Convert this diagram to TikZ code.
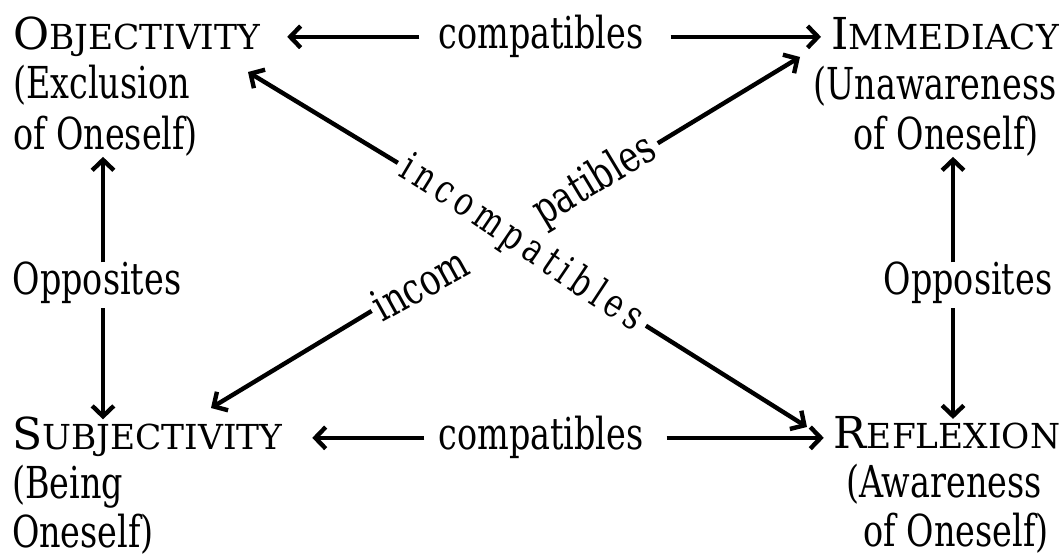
\documentclass[tikz,border=0pt]{standalone}
\usepackage{fontspec}
\setmainfont{DejaVu Serif}[FakeStretch=0.76]
\newfontfamily\scfont{DejaVu Serif}
\usetikzlibrary{arrows.meta,decorations.text}
\newcommand{\fsc}[2]{{\scfont\fontsize{11}{13}\selectfont #1\fontsize{8.6}{10}\selectfont #2}}
\begin{document}
\begin{tikzpicture}[x=0.25pt,y=-0.25pt,
  font=\fontsize{11}{13}\selectfont,
  every node/.style={inner sep=0pt,outer sep=0pt},
  arr/.style={line width=1.1pt,-{Straight Barb[length=2.6pt,width=5.4pt]}},
  lbl/.style={anchor=base}]
\useasboundingbox (0,0) rectangle (1062,554);
% corner nodes
\node[anchor=base west] (obj)  at (13,50)  {\fsc{O}{BJECTIVITY}};
\node[anchor=base west] (objA) at (13,99)  {(Exclusion};
\node[anchor=base west] (objB) at (13,150) {of Oneself)};
\node[anchor=base west] (sub)  at (12,450) {\fsc{S}{UBJECTIVITY}};
\node[anchor=base west] (subA) at (12,499) {(Being};
\node[anchor=base west] (subB) at (12,548) {Oneself)};
\node[lbl] (imm)  at (945,50)  {\fsc{I}{MMEDIACY}};
\node[lbl] (immA) at (935,100) {(Unawareness};
\node[lbl] (immB) at (946,150) {of Oneself)};
\node[lbl] (rfx)  at (947,449) {\fsc{R}{EFLEXION}};
\node[lbl] (rfxA) at (944,498) {(Awareness};
\node[lbl] (rfxB) at (956,547) {of Oneself)};
% edge labels
\node[lbl] (oppL) at (97,295)  {Opposites};
\node[lbl] (oppR) at (968,295) {Opposites};
\node[lbl] (cmpT) at (541,49)  {compatibles};
\node[lbl] (cmpB) at (541,450) {compatibles};
\node[rotate=29] (inc)  at (420,284) {incom};
\node[rotate=31] (pat)  at (595,181) {patibles};
% helper coordinates
\coordinate (lx) at (103,0);
\coordinate (rx) at (953,0);
\coordinate (dA) at (403,166);
\coordinate (dB) at (640,322);
\coordinate (tO) at (248,72);
\coordinate (tR) at (807,427);
\coordinate (tS) at (211,408);
\coordinate (tI) at (800,57);
% horizontal arrows
\draw[arr,shorten <=4.75pt,shorten >=6.75pt] (cmpT.west) -- (obj.east |- cmpT.west);
\draw[arr,shorten <=6.75pt,shorten >=2.5pt] (cmpT.east) -- (imm.west |- cmpT.east);
\draw[arr,shorten <=3.5pt,shorten >=7.5pt] (cmpB.west) -- (sub.east |- cmpB.west);
\draw[arr,shorten <=5.75pt,shorten >=2.5pt] (cmpB.east) -- (rfx.west |- cmpB.east);
% vertical arrows
\draw[arr] (oppL.north -| lx) -- (objB.south -| lx);
\draw[arr,shorten <=1pt,shorten >=-0.5pt] (oppL.south -| lx) -- (sub.north -| lx);
\draw[arr] (oppR.north -| rx) -- (immB.south -| rx);
\draw[arr,shorten <=1pt,shorten >=-0.5pt] (oppR.south -| rx) -- (rfx.north -| rx);
% diagonal arrows
\draw[arr,shorten <=1.5pt] (dA) -- (tO);
\draw[arr,shorten <=1.75pt] (dB) -- (tR);
\draw[arr,shorten <=1pt] (inc.west) -- (tS);
\draw[arr,shorten <=1.5pt] (pat.east) -- (tI);
\path[decorate,decoration={text along path,text={incompatibles},
  text align={fit to path},raise=-2.8pt}]
  (dA) .. controls (473,207) and (570,280) .. (dB);
\end{tikzpicture}
\end{document}
